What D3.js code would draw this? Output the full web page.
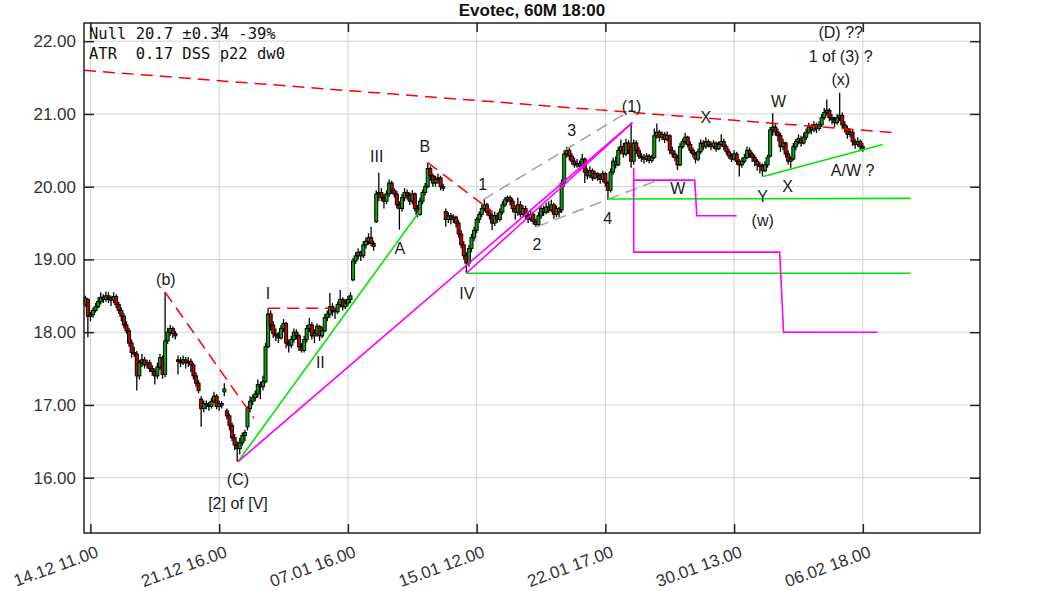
<!DOCTYPE html>
<html><head><meta charset="utf-8">
<script src="https://cdn.jsdelivr.net/npm/d3@7"></script>
<style>body{margin:0;background:#fff}svg{display:block}</style>
</head><body><svg id="c" width="1063" height="591"></svg>
<script>
// ---------- DATA (hourly bars, index 0..302) ----------
const opens=[
18.38,18.45,18.22,18.24,18.30,18.35,18.42,18.48,18.45,18.50,
18.47,18.44,18.49,18.38,18.30,18.22,18.10,18.02,17.85,17.72,
17.70,17.40,17.58,17.62,17.55,17.58,17.50,17.46,17.40,17.52,
17.65,17.42,17.88,18.00,18.05,17.98,17.62,17.60,17.58,17.62,
17.58,17.60,17.55,17.40,17.30,17.08,16.95,17.02,17.00,16.98,
17.05,17.12,16.98,17.02,17.18,16.92,16.85,16.72,16.55,16.45,
16.40,16.48,16.58,16.70,16.95,17.05,17.10,17.15,17.28,17.25,
17.32,17.80,18.25,18.10,17.98,17.95,17.92,18.05,18.12,17.85,
17.82,17.90,18.00,17.95,17.80,17.75,17.90,18.05,18.10,17.95,
17.98,18.08,17.95,18.02,18.20,18.25,18.35,18.30,18.28,18.38,
18.45,18.35,18.40,18.45,18.72,18.98,19.05,19.10,19.05,19.20,
19.25,19.30,19.22,19.52,19.90,19.92,19.85,19.80,19.90,20.05,
19.95,19.90,19.75,19.70,19.85,19.92,19.88,19.80,19.90,19.70,
19.62,19.80,19.92,20.00,20.25,20.15,20.05,20.10,20.12,20.00,
19.66,19.55,19.60,19.55,19.58,19.50,19.35,19.20,19.05,18.95,
19.15,19.30,19.40,19.55,19.62,19.70,19.75,19.65,19.60,19.50,
19.60,19.55,19.65,19.75,19.82,19.85,19.80,19.70,19.65,19.75,
19.62,19.70,19.60,19.55,19.62,19.52,19.48,19.60,19.70,19.65,
19.72,19.68,19.75,19.62,19.70,19.68,20.05,20.45,20.50,20.42,
20.35,20.30,20.32,20.28,20.38,20.20,20.15,20.22,20.12,20.18,
20.15,20.10,20.18,20.05,19.95,20.20,20.35,20.30,20.50,20.55,
20.45,20.60,20.55,20.35,20.60,20.50,20.42,20.40,20.38,20.42,
20.36,20.40,20.70,20.75,20.68,20.72,20.65,20.70,20.50,20.45,
20.40,20.30,20.55,20.62,20.68,20.58,20.50,20.45,20.38,20.48,
20.60,20.55,20.62,20.58,20.55,20.60,20.52,20.58,20.62,20.55,
20.48,20.42,20.38,20.45,20.35,20.30,20.35,20.40,20.50,20.45,
20.40,20.35,20.30,20.28,20.22,20.30,20.42,20.78,20.82,20.75,
20.70,20.55,20.60,20.45,20.35,20.38,20.55,20.62,20.66,20.60,
20.68,20.75,20.82,20.78,20.85,20.80,20.85,20.95,21.02,21.05,
20.95,20.92,20.88,20.95,20.98,20.85,20.80,20.72,20.75,20.62,
20.58,20.62,20.55];
const highs=[
18.50,18.47,18.28,18.34,18.40,18.48,18.55,18.52,18.56,18.55,
18.50,18.55,18.52,18.42,18.34,18.26,18.15,18.06,17.90,17.80,
17.74,17.62,17.70,17.66,17.62,17.62,17.55,17.50,17.58,17.70,
17.68,18.55,18.06,18.10,18.08,18.02,17.68,17.66,17.68,17.66,
17.66,17.64,17.58,17.45,17.34,17.12,17.06,17.06,17.04,17.10,
17.18,17.15,17.06,17.05,17.30,16.95,16.88,16.76,16.60,16.50,
16.55,16.62,16.66,16.98,17.12,17.14,17.20,17.35,17.32,17.40,
17.85,18.33,18.30,18.15,18.05,18.00,18.10,18.18,18.14,17.90,
17.95,18.05,18.04,17.98,17.85,17.95,18.10,18.20,18.14,18.04,
18.12,18.10,18.08,18.25,18.30,18.54,18.40,18.34,18.42,18.58,
18.48,18.45,18.50,18.55,19.02,19.10,19.15,19.12,19.25,19.30,
19.36,19.45,19.26,19.95,20.19,19.98,19.90,19.95,20.10,20.08,
19.98,19.94,19.80,19.90,19.98,19.96,19.92,19.95,19.92,19.75,
19.85,19.96,20.05,20.33,20.28,20.18,20.15,20.18,20.15,20.04,
19.70,19.65,19.64,19.62,19.60,19.54,19.40,19.25,19.10,19.20,
19.35,19.45,19.58,19.66,19.75,19.83,19.78,19.70,19.64,19.66,
19.64,19.70,19.80,19.86,19.88,19.88,19.84,19.74,19.85,19.80,
19.75,19.74,19.65,19.68,19.66,19.56,19.65,19.75,19.74,19.78,
19.80,19.82,19.78,19.74,19.72,20.10,20.50,20.55,20.55,20.46,
20.40,20.38,20.36,20.45,20.40,20.25,20.28,20.25,20.22,20.20,
20.18,20.22,20.20,20.08,20.25,20.40,20.42,20.55,20.65,20.60,
20.66,20.64,20.88,20.65,20.64,20.55,20.46,20.45,20.46,20.45,
20.44,20.80,20.87,20.78,20.76,20.75,20.76,20.72,20.55,20.50,
20.44,20.60,20.66,20.74,20.70,20.62,20.54,20.48,20.52,20.65,
20.64,20.68,20.65,20.62,20.64,20.62,20.62,20.72,20.66,20.58,
20.52,20.46,20.50,20.48,20.38,20.40,20.45,20.55,20.54,20.48,
20.44,20.38,20.34,20.32,20.35,20.44,20.82,21.01,20.86,20.80,
20.74,20.66,20.62,20.50,20.42,20.60,20.66,20.72,20.70,20.74,
20.80,20.88,20.86,20.90,20.88,20.90,21.00,21.08,21.20,21.08,
21.00,20.96,21.00,21.29,21.02,20.90,20.84,20.80,20.78,20.66,
20.68,20.65,20.60];
const lows=[
18.35,17.93,18.15,18.20,18.27,18.33,18.38,18.40,18.42,18.40,
18.36,18.40,18.33,18.25,18.15,18.05,17.98,17.80,17.65,17.66,
17.20,17.35,17.52,17.50,17.50,17.45,17.40,17.28,17.36,17.48,
17.36,17.38,17.84,17.95,17.92,17.90,17.42,17.52,17.55,17.50,
17.52,17.45,17.35,17.25,17.16,16.70,16.90,16.94,16.92,16.95,
17.02,16.94,16.92,16.95,17.12,16.80,16.65,16.50,16.38,16.22,
16.32,16.44,16.50,16.65,16.90,17.00,17.05,17.10,17.08,17.20,
17.30,17.78,18.02,17.92,17.88,17.85,17.90,18.00,17.78,17.72,
17.78,17.86,17.90,17.74,17.72,17.72,17.86,18.00,17.90,17.85,
17.94,17.88,17.92,18.00,18.15,18.20,18.22,18.18,18.25,18.34,
18.30,18.32,18.36,18.40,18.70,18.94,19.00,18.98,19.02,19.15,
19.20,19.18,19.12,19.50,19.80,19.80,19.70,19.76,19.86,19.90,
19.85,19.70,19.41,19.66,19.80,19.82,19.75,19.76,19.66,19.58,
19.60,19.76,19.88,19.98,20.08,20.00,20.00,20.04,19.95,19.94,
19.45,19.50,19.48,19.50,19.44,19.30,19.15,19.00,18.81,18.90,
19.10,19.25,19.36,19.50,19.58,19.66,19.60,19.55,19.40,19.46,
19.50,19.52,19.62,19.72,19.78,19.74,19.65,19.55,19.60,19.58,
19.58,19.55,19.50,19.52,19.48,19.45,19.46,19.56,19.60,19.62,
19.64,19.65,19.56,19.58,19.58,19.64,20.00,20.40,20.36,20.30,
20.26,20.26,20.22,20.25,20.05,20.10,20.12,20.08,20.10,20.08,
20.04,20.06,20.00,19.82,19.92,20.16,20.25,20.28,20.45,20.40,
20.42,20.45,20.26,20.30,20.45,20.38,20.34,20.32,20.34,20.32,
20.33,20.38,20.66,20.62,20.64,20.60,20.62,20.45,20.40,20.35,
20.23,20.28,20.52,20.58,20.54,20.46,20.40,20.32,20.35,20.45,
20.50,20.52,20.54,20.50,20.52,20.48,20.50,20.55,20.50,20.44,
20.38,20.34,20.36,20.30,20.14,20.26,20.32,20.38,20.40,20.34,
20.28,20.22,20.18,20.14,20.20,20.26,20.40,20.70,20.70,20.62,
20.48,20.50,20.40,20.30,20.26,20.36,20.50,20.58,20.55,20.58,
20.64,20.72,20.72,20.75,20.74,20.77,20.82,20.92,20.98,20.90,
20.86,20.82,20.85,20.90,20.80,20.74,20.66,20.68,20.56,20.52,
20.55,20.50,20.48];
const closes=[
18.47,18.22,18.24,18.30,18.35,18.42,18.48,18.45,18.50,18.47,
18.44,18.49,18.38,18.30,18.22,18.10,18.02,17.85,17.72,17.70,
17.40,17.58,17.62,17.55,17.58,17.50,17.46,17.40,17.52,17.65,
17.42,17.88,18.00,18.05,17.98,17.95,17.60,17.58,17.62,17.58,
17.60,17.55,17.40,17.30,17.20,16.95,17.02,17.00,16.98,17.05,
17.12,16.98,17.02,17.00,17.22,16.85,16.72,16.55,16.45,16.40,
16.48,16.58,16.62,16.95,17.05,17.10,17.15,17.28,17.25,17.32,
17.80,18.25,18.10,17.98,17.95,17.92,18.05,18.12,17.85,17.82,
17.90,18.00,17.95,17.80,17.75,17.90,18.05,18.10,17.95,17.98,
18.08,17.95,18.02,18.20,18.25,18.35,18.30,18.28,18.38,18.45,
18.35,18.40,18.45,18.50,18.98,19.05,19.10,19.05,19.20,19.25,
19.30,19.22,19.18,19.90,19.92,19.85,19.80,19.90,20.05,19.95,
19.90,19.75,19.70,19.85,19.92,19.88,19.80,19.90,19.70,19.62,
19.80,19.92,20.00,20.25,20.15,20.05,20.10,20.12,20.00,19.98,
19.55,19.60,19.55,19.58,19.50,19.35,19.20,19.05,18.95,19.15,
19.30,19.40,19.55,19.62,19.70,19.75,19.65,19.60,19.50,19.60,
19.55,19.65,19.75,19.82,19.85,19.80,19.70,19.65,19.75,19.62,
19.70,19.60,19.55,19.62,19.52,19.48,19.60,19.70,19.65,19.72,
19.68,19.75,19.62,19.70,19.65,20.05,20.45,20.50,20.42,20.35,
20.30,20.32,20.28,20.38,20.20,20.15,20.22,20.12,20.18,20.15,
20.10,20.18,20.05,19.95,20.20,20.35,20.30,20.50,20.55,20.45,
20.60,20.50,20.35,20.60,20.50,20.42,20.40,20.38,20.42,20.36,
20.40,20.70,20.75,20.68,20.72,20.65,20.70,20.50,20.45,20.40,
20.30,20.55,20.62,20.68,20.58,20.50,20.45,20.38,20.48,20.60,
20.55,20.62,20.58,20.55,20.60,20.52,20.58,20.62,20.55,20.48,
20.42,20.38,20.45,20.35,20.30,20.35,20.40,20.50,20.45,20.40,
20.35,20.30,20.28,20.22,20.30,20.40,20.78,20.82,20.75,20.70,
20.55,20.60,20.45,20.35,20.38,20.55,20.62,20.66,20.60,20.68,
20.75,20.82,20.78,20.85,20.80,20.85,20.95,21.02,21.05,20.95,
20.92,20.88,20.95,20.98,20.85,20.80,20.72,20.75,20.62,20.58,
20.62,20.55,20.53];

const xTickIndex=[2,52,102,152,202,252,302];
const xTickLabels=["14.12 11.00","21.12 16.00","07.01 16.00","15.01 12.00","22.01 17.00","30.01 13.00","06.02 18.00"];
const yTickValues=[16,17,18,19,20,21,22];
const title="Evotec, 60M 18:00";
const infoLines=["Null 20.7 \u00b10.34 -39%","ATR  0.17 DSS p22 dw0"];

// trend / wave lines as [barIndex, price] points
const redDashed=[
  [[-0.5,21.60],[315.5,20.74]],
  [[31,18.55],[65.5,16.82]],
  [[71,18.33],[94.5,18.33]],
  [[133,20.33],[158.3,19.65]]
];
const grayDashed=[
  [[154.5,19.82],[212.2,21.06]],
  [[175.4,19.45],[223.1,20.10]]
];
const greenLines=[
  [[59.3,16.22],[130.2,19.68]],
  [[148,18.81],[320.5,18.81]],
  [[203.4,19.83],[320.5,19.84]],
  [[263.3,20.14],[309.7,20.58]]
];
const magentaLines=[
  [[59.3,16.22],[212.5,20.88]],
  [[148,18.81],[212.5,20.88]],
  [[213,20.26],[213,19.10],[269.7,19.10],[271.2,18.00],[307.7,18.00]],
  [[213,20.09],[236.7,20.09],[237.5,19.60],[253,19.60]]
];
// wave labels: [text, barIndex, price]
const waveLabels=[
  ["(b)",31.3,18.72],["I",71,18.54],["II",91.3,17.59],["III",113.2,20.41],
  ["A",122.2,19.15],["B",131.9,20.55],["1",154.4,20.03],["IV",148.2,18.54],
  ["2",175.4,19.21],["3",188.9,20.77],["4",202.9,19.57],["(1)",212.2,21.10],
  ["X",241,20.95],["W",230.1,19.98],["(w)",263.1,19.53],["Y",263.1,19.87],
  ["X",272.8,20.00],["W",269.3,21.17],["A/W ?",298,20.23],["(x)",293.4,21.47],
  ["1 of (3) ?",293.4,21.79],["(D) ??",293.4,22.12],["(C)",59.3,15.97],["[2] of [V]",59.3,15.65]
];

// ---------- DRAW ----------
const svg=d3.select("#c");
const L=84,R=980,T=23,B=533;
const x=d3.scaleLinear().domain([-0.5,347.5]).range([L,R]);
const y=d3.scaleLinear().domain([15.24,22.25]).range([B,T]);
const FONT="'Liberation Sans', Arial, sans-serif";

// grid
const grid=svg.append("g").attr("stroke","#d4d4d4").attr("stroke-width",1);
xTickIndex.forEach(i=>grid.append("line").attr("x1",x(i)).attr("x2",x(i)).attr("y1",T).attr("y2",B));
yTickValues.forEach(v=>grid.append("line").attr("x1",L).attr("x2",R).attr("y1",y(v)).attr("y2",y(v)));

// candles
const bars=d3.range(closes.length);
const cg=svg.append("g");
cg.selectAll("line").data(bars).join("line")
  .attr("x1",i=>x(i)).attr("x2",i=>x(i))
  .attr("y1",i=>y(highs[i])).attr("y2",i=>y(lows[i]))
  .attr("stroke","#000").attr("stroke-width",1.3);
cg.selectAll("rect").data(bars).join("rect")
  .attr("x",i=>x(i)-1.5).attr("width",3)
  .attr("y",i=>y(Math.max(opens[i],closes[i])))
  .attr("height",i=>Math.max(1.5,Math.abs(y(opens[i])-y(closes[i]))))
  .attr("fill",i=>closes[i]>=opens[i]?"#00aa00":"#cc0000")
  .attr("stroke","#000").attr("stroke-width",1);

// overlays
const line=d3.line().x(d=>x(d[0])).y(d=>y(d[1]));
const og=svg.append("g").attr("fill","none");
redDashed.forEach(p=>og.append("path").attr("d",line(p)).attr("stroke","#ff0000").attr("stroke-width",1.5).attr("stroke-dasharray","12,7"));
grayDashed.forEach(p=>og.append("path").attr("d",line(p)).attr("stroke","#a0a0a0").attr("stroke-width",1.5).attr("stroke-dasharray","12,7"));
greenLines.forEach(p=>og.append("path").attr("d",line(p)).attr("stroke","#00e600").attr("stroke-width",1.6));
magentaLines.forEach(p=>og.append("path").attr("d",line(p)).attr("stroke","#ff00ff").attr("stroke-width",1.6));

// axes
const yl=svg.append("g").attr("transform",`translate(${L},0)`)
  .call(d3.axisLeft(y).tickValues(yTickValues).tickFormat(d3.format(".2f")).tickSizeInner(-10).tickSizeOuter(0).tickPadding(8));
const yr=svg.append("g").attr("transform",`translate(${R},0)`)
  .call(d3.axisRight(y).tickValues(yTickValues).tickFormat("").tickSizeInner(-10).tickSizeOuter(0));
const xb=svg.append("g").attr("transform",`translate(0,${B})`)
  .call(d3.axisBottom(x).tickValues(xTickIndex).tickFormat((d,k)=>xTickLabels[k]).tickSizeInner(-9).tickSizeOuter(0).tickPadding(13));
const xt=svg.append("g").attr("transform",`translate(0,${T})`)
  .call(d3.axisTop(x).tickValues(xTickIndex).tickFormat("").tickSizeInner(-9).tickSizeOuter(0));
[yl,yr,xb,xt].forEach(g=>{g.select(".domain").remove();g.selectAll(".tick line").attr("stroke","#222").attr("stroke-width",1.5);});
yl.selectAll("text").attr("font-family",FONT).attr("font-size",17).attr("fill","#333");
xb.selectAll("text").attr("font-family",FONT).attr("font-size",17).attr("fill","#333")
  .attr("text-anchor","end").attr("transform","rotate(-20)");

// frame
svg.append("rect").attr("x",L).attr("y",T).attr("width",R-L).attr("height",B-T)
  .attr("fill","none").attr("stroke","#222").attr("stroke-width",1.5);

// labels
svg.append("g").selectAll("text").data(waveLabels).join("text")
  .attr("x",d=>x(d[1])).attr("y",d=>y(d[2])).attr("dy","0.35em")
  .attr("text-anchor","middle").attr("font-family",FONT).attr("font-size",16).attr("fill","#1a1a1a")
  .text(d=>d[0]);

// info text
svg.append("g").selectAll("text").data(infoLines).join("text")
  .attr("x",L+5).attr("y",(d,k)=>39+k*20)
  .attr("xml:space","preserve").style("white-space","pre")
  .attr("font-family","'DejaVu Sans Mono', monospace").attr("font-size",15.5).attr("fill","#111")
  .text(d=>d);

// title
svg.append("text").attr("x",532).attr("y",16).attr("text-anchor","middle")
  .attr("font-family",FONT).attr("font-weight","bold").attr("font-size",17).attr("fill","#111").text(title);
</script></body></html>
